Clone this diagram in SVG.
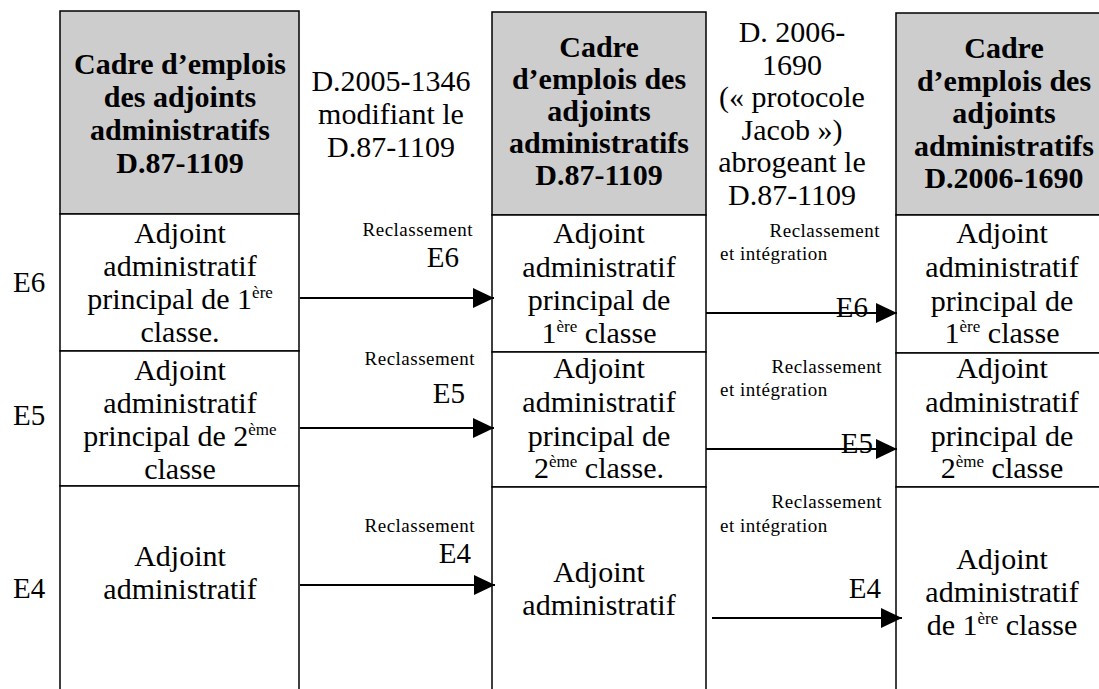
<svg xmlns="http://www.w3.org/2000/svg" width="1099" height="689" viewBox="0 0 1099 689" font-family="'Liberation Serif', Tinos, 'DejaVu Serif', 'Noto Serif', serif">
<style>
text { font-family: 'Liberation Serif', Tinos, 'DejaVu Serif', 'Noto Serif', serif; fill: #000; }
.hd { font-size: 30px; font-weight: bold; text-anchor: middle; }
.cell { font-size: 30px; text-anchor: middle; }
.mid { font-size: 30px; text-anchor: middle; }
.lvl { font-size: 29px; }
.sm { font-size: 19px; letter-spacing: 0.5px; }
.smr { font-size: 19px; letter-spacing: 0.5px; text-anchor: end; }
.e { font-size: 29px; text-anchor: end; }
.sup { font-size: 17px; }
.box { fill: #fff; stroke: #000; stroke-width: 1.5; }
.head { fill: #cdcdcd; stroke: #000; stroke-width: 1.5; }
.conn line { stroke: #000; stroke-width: 2; marker-end: url(#ah); }
</style>
<defs>
<marker id="ah" markerUnits="userSpaceOnUse" markerWidth="22" markerHeight="21" refX="21" refY="10" orient="auto">
<path d="M0,0 L21,10 L0,20 z" fill="#000"/>
</marker>
</defs>
<rect width="1099" height="689" fill="#fff"/>

<g id="levels">
<text x="13" y="292" class="lvl">E6</text>
<text x="13" y="425" class="lvl">E5</text>
<text x="13" y="598" class="lvl">E4</text>
</g>

<g id="col1">
<rect x="60" y="11" width="239" height="203" class="head"/>
<text x="180" y="74" class="hd">Cadre d’emplois</text>
<text x="180" y="107" class="hd">des adjoints</text>
<text x="180" y="140" class="hd">administratifs</text>
<text x="180" y="173" class="hd">D.87-1109</text>
</g>
<g id="col1-e6">
<rect x="60" y="214" width="239" height="137" class="box"/>
<text x="180" y="243" class="cell">Adjoint</text>
<text x="180" y="276" class="cell">administratif</text>
<text x="180" y="309" class="cell">principal de 1<tspan class="sup" dy="-11">ère</tspan></text>
<text x="180" y="342" class="cell">classe.</text>
</g>
<g id="col1-e5">
<rect x="60" y="351" width="239" height="135" class="box"/>
<text x="180" y="380" class="cell">Adjoint</text>
<text x="180" y="413" class="cell">administratif</text>
<text x="180" y="446" class="cell">principal de 2<tspan class="sup" dy="-11">ème</tspan></text>
<text x="180" y="479" class="cell">classe</text>
</g>
<g id="col1-e4">
<rect x="60" y="486" width="239" height="220" class="box"/>
<text x="180" y="566" class="cell">Adjoint</text>
<text x="180" y="599" class="cell">administratif</text>
</g>

<g id="decree1">
<text x="391" y="91" class="mid">D.2005-1346</text>
<text x="391" y="124" class="mid">modifiant le</text>
<text x="391" y="157" class="mid">D.87-1109</text>
</g>

<g id="col2">
<rect x="492" y="12" width="214" height="203" class="head"/>
<text x="599" y="57" class="hd">Cadre</text>
<text x="599" y="89" class="hd">d’emplois des</text>
<text x="599" y="121" class="hd">adjoints</text>
<text x="599" y="153" class="hd">administratifs</text>
<text x="599" y="185" class="hd">D.87-1109</text>
</g>
<g id="col2-e6">
<rect x="492" y="215" width="214" height="137" class="box"/>
<text x="599" y="243" class="cell">Adjoint</text>
<text x="599" y="277" class="cell">administratif</text>
<text x="599" y="310" class="cell">principal de</text>
<text x="599" y="343" class="cell">1<tspan class="sup" dy="-11">ère</tspan><tspan dy="11"> classe</tspan></text>
</g>
<g id="col2-e5">
<rect x="492" y="352" width="214" height="135" class="box"/>
<text x="599" y="378" class="cell">Adjoint</text>
<text x="599" y="412" class="cell">administratif</text>
<text x="599" y="446" class="cell">principal de</text>
<text x="599" y="478" class="cell">2<tspan class="sup" dy="-11">ème</tspan><tspan dy="11"> classe.</tspan></text>
</g>
<g id="col2-e4">
<rect x="492" y="487" width="214" height="220" class="box"/>
<text x="599" y="582" class="cell">Adjoint</text>
<text x="599" y="615" class="cell">administratif</text>
</g>

<g id="decree2">
<text x="792" y="42" class="mid">D. 2006-</text>
<text x="792" y="74.5" class="mid">1690</text>
<text x="792" y="107" class="mid">(« protocole</text>
<text x="792" y="139.5" class="mid">Jacob »)</text>
<text x="792" y="172" class="mid">abrogeant le</text>
<text x="792" y="204.5" class="mid">D.87-1109</text>
</g>

<g id="col3">
<rect x="896" y="13" width="216" height="202" class="head"/>
<text x="1004" y="58" class="hd">Cadre</text>
<text x="1004" y="90.5" class="hd">d’emplois des</text>
<text x="1004" y="123" class="hd">adjoints</text>
<text x="1004" y="155.5" class="hd">administratifs</text>
<text x="1004" y="188" class="hd">D.2006-1690</text>
</g>
<g id="col3-e6">
<rect x="896" y="215" width="216" height="138" class="box"/>
<text x="1002" y="243" class="cell">Adjoint</text>
<text x="1002" y="277" class="cell">administratif</text>
<text x="1002" y="311" class="cell">principal de</text>
<text x="1002" y="343" class="cell">1<tspan class="sup" dy="-11">ère</tspan><tspan dy="11"> classe</tspan></text>
</g>
<g id="col3-e5">
<rect x="896" y="353" width="216" height="134" class="box"/>
<text x="1002" y="378" class="cell">Adjoint</text>
<text x="1002" y="412" class="cell">administratif</text>
<text x="1002" y="446" class="cell">principal de</text>
<text x="1002" y="478" class="cell">2<tspan class="sup" dy="-11">ème</tspan><tspan dy="11"> classe</tspan></text>
</g>
<g id="col3-e4">
<rect x="896" y="487" width="216" height="220" class="box"/>
<text x="1002" y="569" class="cell">Adjoint</text>
<text x="1002" y="602" class="cell">administratif</text>
<text x="1002" y="635" class="cell">de 1<tspan class="sup" dy="-11">ère</tspan><tspan dy="11"> classe</tspan></text>
</g>

<g id="connectors" class="conn">
<line x1="300" y1="298" x2="494" y2="298"/>
<line x1="300" y1="428" x2="494" y2="428"/>
<line x1="300" y1="585" x2="495" y2="585"/>
<line x1="706" y1="313" x2="897" y2="313"/>
<line x1="706" y1="449" x2="897" y2="449"/>
<line x1="712" y1="618" x2="902" y2="618"/>
</g>

<g id="connector-labels">
<text x="473" y="236" class="smr">Reclassement</text>
<text x="459" y="267" class="e">E6</text>
<text x="475" y="365" class="smr">Reclassement</text>
<text x="465" y="403" class="e">E5</text>
<text x="475" y="532" class="smr">Reclassement</text>
<text x="471" y="563" class="e">E4</text>

<text x="880" y="237" class="smr">Reclassement</text>
<text x="720" y="260" class="sm">et intégration</text>
<text x="868" y="317" class="e">E6</text>
<text x="882" y="373" class="smr">Reclassement</text>
<text x="720" y="396" class="sm">et intégration</text>
<text x="873" y="453" class="e">E5</text>
<text x="882" y="508" class="smr">Reclassement</text>
<text x="720" y="532" class="sm">et intégration</text>
<text x="881" y="598" class="e">E4</text>
</g>
</svg>
